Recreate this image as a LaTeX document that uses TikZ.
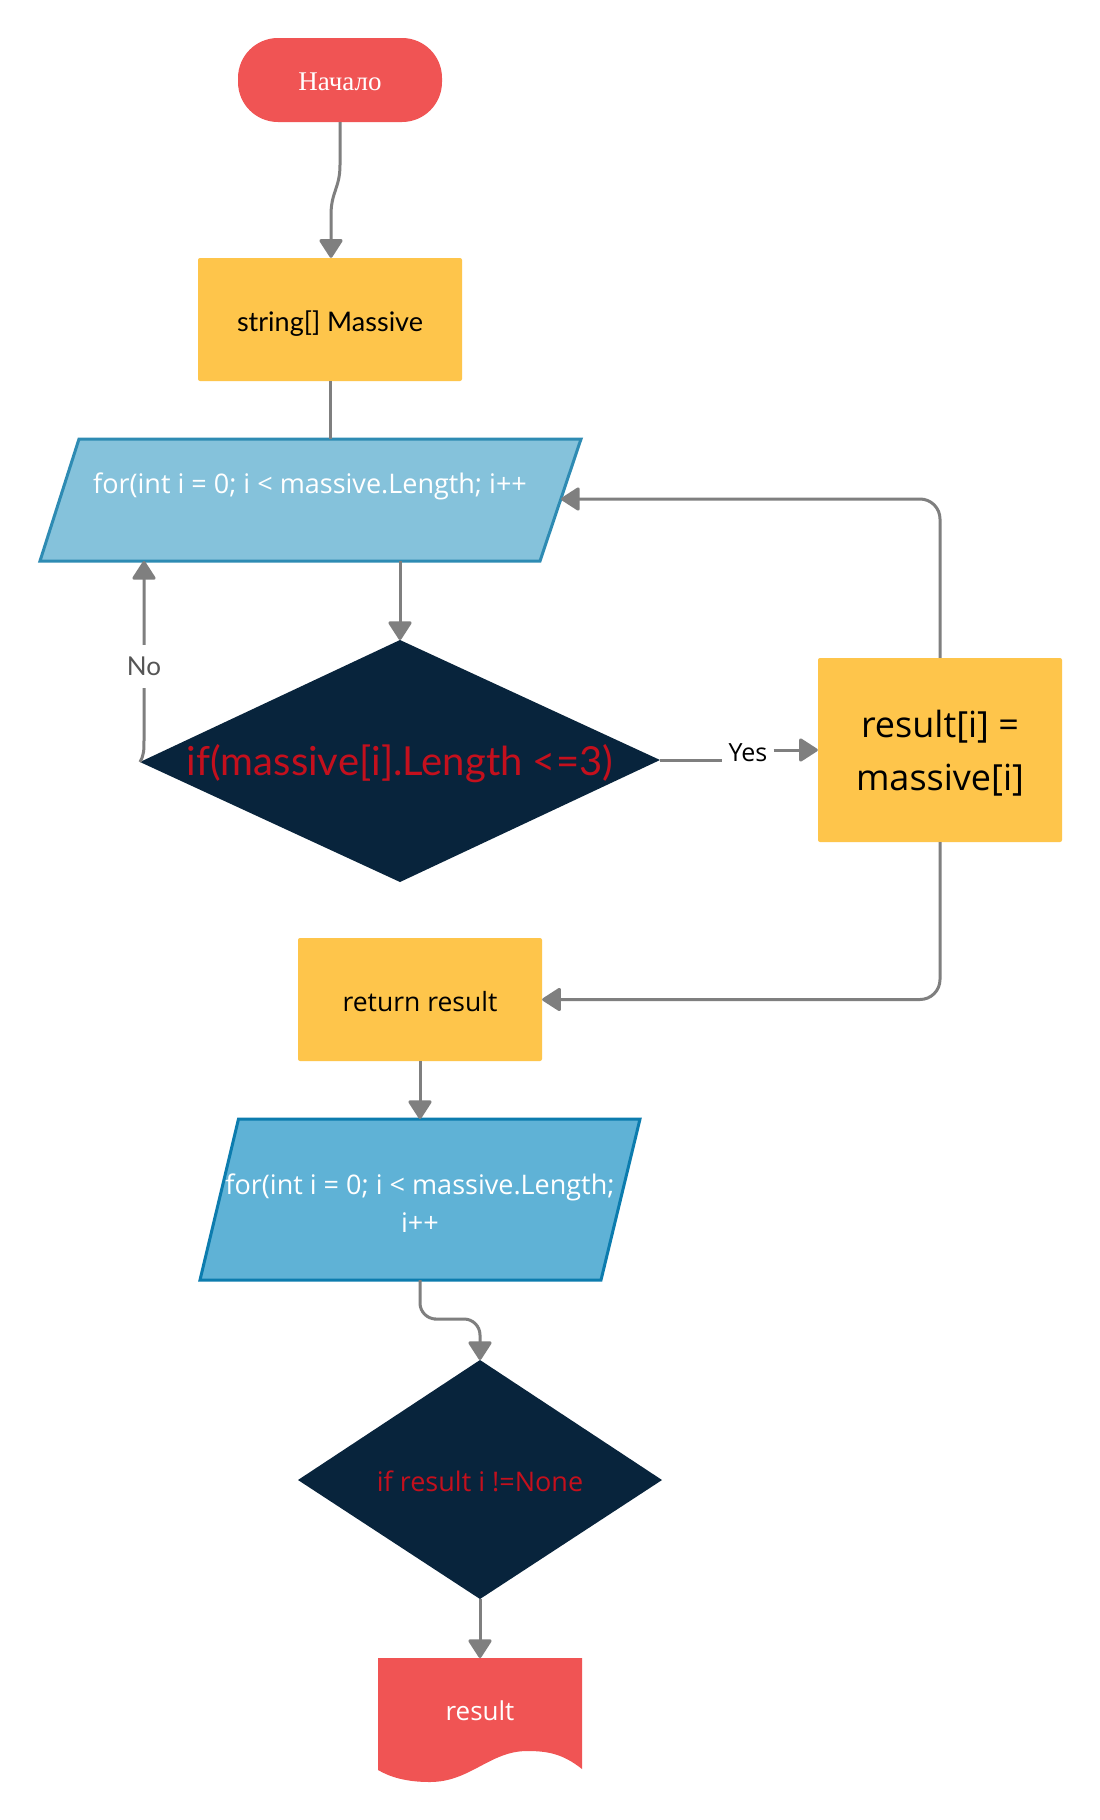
\documentclass[tikz,border=0pt]{standalone}
\usepackage{fontspec}
\newfontfamily\lato{Lato}
\newfontfamily\osans{Open Sans}
\newfontfamily\lserif{Liberation Serif}
\usetikzlibrary{arrows.meta}
\definecolor{cred}{HTML}{F05454}
\definecolor{cyellow}{HTML}{FEC54B}
\definecolor{cblueA}{HTML}{85C2DB}
\definecolor{cblueAline}{HTML}{2E8BB3}
\definecolor{cblueB}{HTML}{5FB2D6}
\definecolor{cblueBline}{HTML}{0C7CAE}
\definecolor{cnavy}{HTML}{08243C}
\definecolor{ctxtred}{HTML}{C4101D}
\definecolor{cgray}{HTML}{7F7F7F}
\definecolor{clabel}{HTML}{555555}
\tikzset{
  conn/.style={draw=cgray, line width=3pt},
  arr/.style={conn, -{Triangle[width=25pt,length=20pt,round]}},
  txt/.style={inner sep=0pt, align=center},
  procbox/.style={fill=cyellow, rounded corners=2pt, inner sep=0pt, align=center, text=black},
  lbl/.style={inner sep=0pt, font=\osans\fontsize{25}{28}\selectfont}
}
\begin{document}
\begin{tikzpicture}[x=1pt,y=-1pt]
\useasboundingbox (0,0) rectangle (1100,1820);
\fill[white] (0,0) rectangle (1100,1820);

% start
\path[fill=cred, rounded corners=40pt] (238,38) rectangle (442,122);
\node[txt, text=white, font=\lserif\fontsize{27}{30}\selectfont] (startlbl) at (340,82) {Начало};
\coordinate (start) at (340,122);

% string[] Massive
\node[procbox, minimum width=264pt, minimum height=123pt, font=\lato\fontsize{27}{32}\selectfont] (mass) at (330,319.5) {};
\node[txt, font=\lato\fontsize{27}{32}\selectfont] (masslbl) at (330,324) {string[] Massive};

% parallelogram 1
\coordinate (p1tl) at (79,439);
\coordinate (p1tr) at (581,439);
\coordinate (p1br) at (540,561);
\coordinate (p1bl) at (40,561);
\draw[fill=cblueA, draw=cblueAline, line width=3pt, line join=miter] (p1tl) -- (p1tr) -- (p1br) -- (p1bl) -- cycle;
\node[txt, text=white, font=\osans\fontsize{27}{30}\selectfont] (loop1) at (310,486) {for(int i = 0; i < massive.Length; i++};
\coordinate (p1top) at (330,439);
\coordinate (p1bot) at (400,561);
\coordinate (p1no) at (144,561);
\coordinate (p1right) at (561,499);

% diamond 1
\coordinate (d1n) at (400,640);
\coordinate (d1e) at (660,760);
\coordinate (d1s) at (400,882);
\coordinate (d1w) at (140,762);
\fill[cnavy] (d1n) -- (d1e) -- (d1s) -- (d1w) -- cycle;
\node[txt, text=ctxtred, font=\lato\fontsize{40}{46}\selectfont] (cond1) at (400,764) {if(massive[i].Length <=3)};

% result box
\node[procbox, minimum width=244pt, minimum height=184pt] (res) at (940,750) {};
\node[txt, font=\osans\fontsize{36}{53}\selectfont] (reslbl) at (940,753) {result[i] =\\massive[i]};

% return result
\node[procbox, minimum width=244pt, minimum height=123pt] (ret) at (420,999.5) {};
\node[txt, font=\osans\fontsize{26.5}{30}\selectfont] (retlbl) at (420,1002) {return result};

% parallelogram 2
\coordinate (p2tl) at (238.5,1119);
\coordinate (p2tr) at (640,1119);
\coordinate (p2br) at (601,1280);
\coordinate (p2bl) at (200,1280);
\draw[fill=cblueB, draw=cblueBline, line width=3pt, line join=miter] (p2tl) -- (p2tr) -- (p2br) -- (p2bl) -- cycle;
\node[txt, text=white, font=\osans\fontsize{27}{38}\selectfont] (loop2) at (420,1203) {for(int i = 0; i < massive.Length;\\i++};
\coordinate (p2top) at (420,1119);
\coordinate (p2bot) at (420,1280);

% diamond 2
\coordinate (d2n) at (480,1360);
\coordinate (d2e) at (662,1480);
\coordinate (d2s) at (480,1599);
\coordinate (d2w) at (298,1480);
\fill[cnavy] (d2n) -- (d2e) -- (d2s) -- (d2w) -- cycle;
\node[txt, text=ctxtred, font=\osans\fontsize{27}{30}\selectfont] (cond2) at (480,1481) {if result i !=None};

% document
\coordinate (doctop) at (480,1658);
\fill[cred] (378,1661) -- (378,1658) -- (582,1658) -- (582,1769)
  .. controls (562,1753) and (546,1751) .. (527,1751)
  .. controls (490,1751) and (470,1782) .. (430,1782)
  .. controls (406,1782) and (390,1777) .. (378,1770) -- cycle;
\node[txt, text=white, font=\osans\fontsize{26}{30}\selectfont] (doc) at (480,1711) {result};

% connectors
\draw[arr] (start) -- (340,165) .. controls (340,188) and (331,192) .. (331,215) -- (mass.north -| 331,0);
\draw[conn] (mass.south) -- (p1top);
\draw[arr] (p1bot) -- (d1n);
\draw[arr] (d1w) .. controls (144,755) and (144,750) .. (144,740) -- node[lbl, fill=white, text=clabel, font=\lato\fontsize{26}{30}\selectfont, inner ysep=12pt, pos=0.41] (no) {No} (p1no);
\node[lbl, text=black, inner xsep=6pt, inner ysep=4pt] (yes) at (748,753) {Yes};
\draw[conn] (d1e) -- (d1e -| yes.west);
\draw[arr] (yes.east |- res.west) -- (res.west);
\draw[arr, rounded corners=20pt] (res.north) |- (p1right);
\draw[arr, rounded corners=20pt] (res.south) |- (ret.east);
\draw[arr] (ret.south) -- (p2top);
\draw[arr, rounded corners=16pt] (p2bot) |- (450,1319) -| (d2n);
\draw[arr] (d2s) -- (doctop);
\end{tikzpicture}
\end{document}
